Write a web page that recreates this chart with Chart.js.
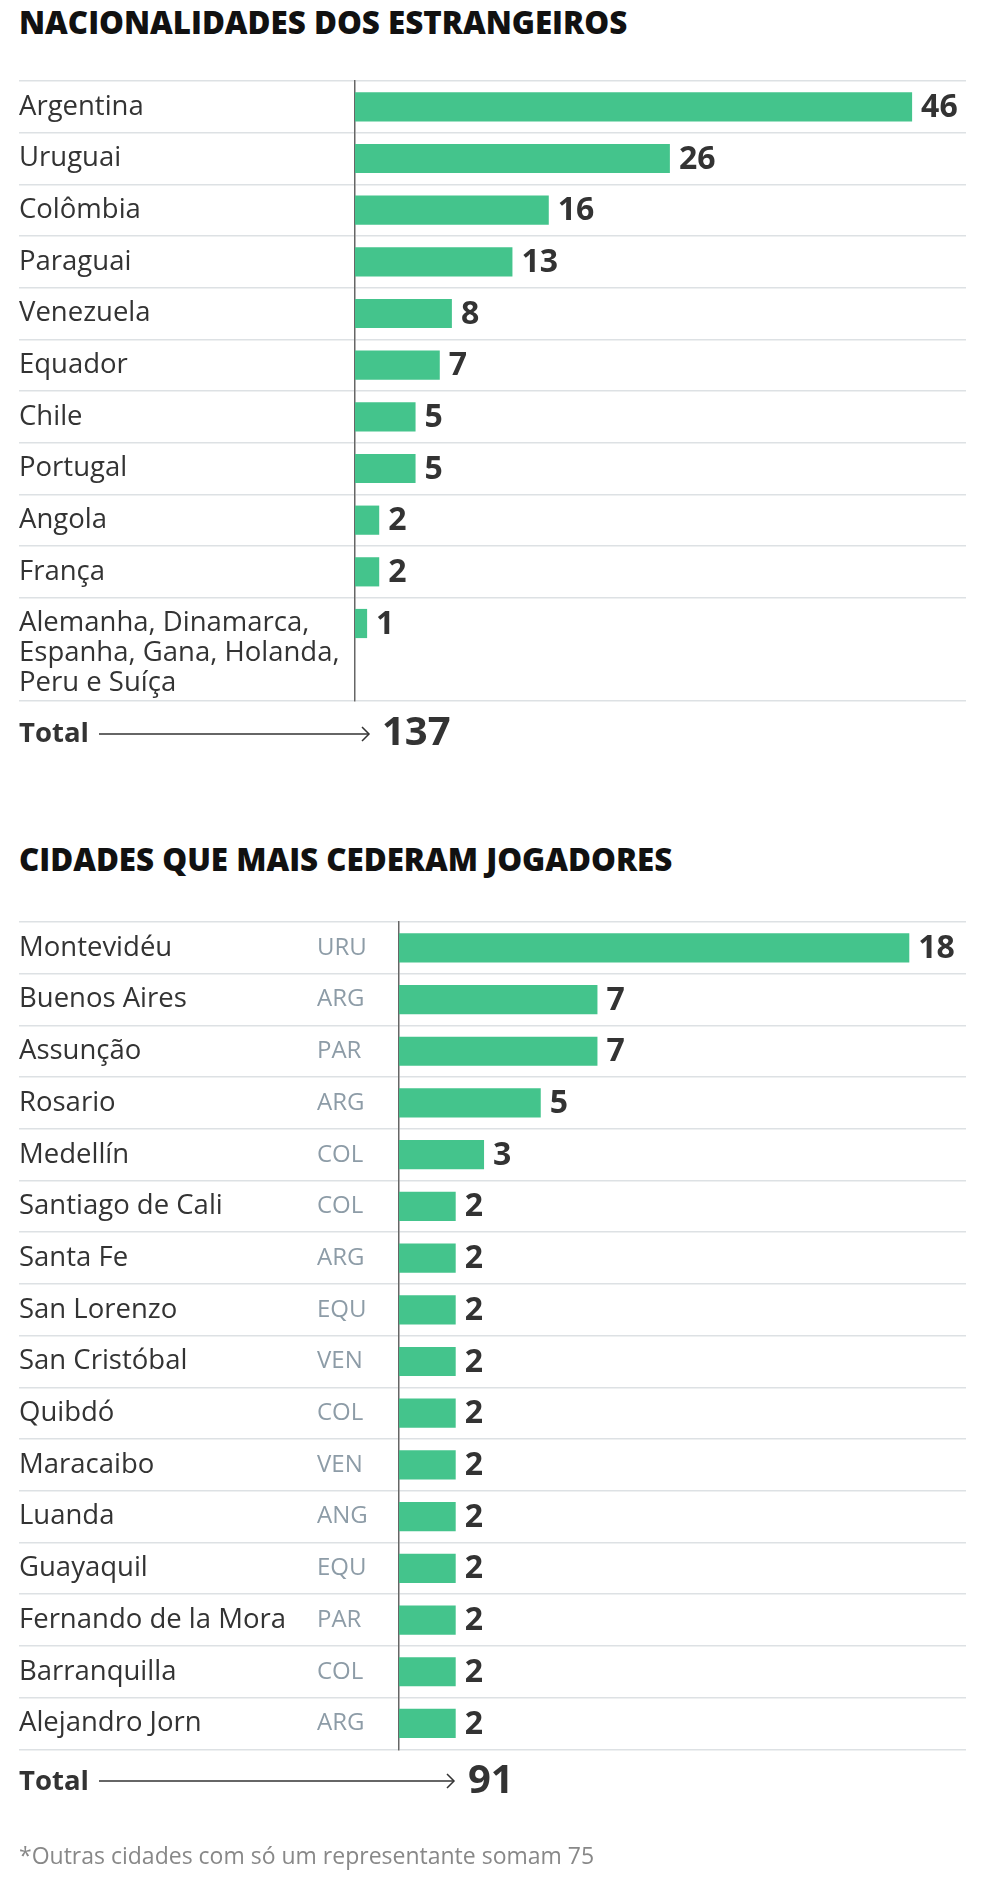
<!DOCTYPE html>
<html>
<head>
<meta charset="utf-8">
<script src="https://cdn.jsdelivr.net/npm/chart.js@4.4.1/dist/chart.umd.min.js"></script>
<style>
  body { margin: 0; background: #fff; font-family: "Open Sans", sans-serif; color: #333; }
  #page { position: relative; width: 984px; height: 1893px; overflow: hidden; }
  .titulo { position: absolute; left: 19px; font-size: 31.3px; line-height: 31.3px; font-weight: 800; color: #111; white-space: nowrap; }
  .caixa { position: absolute; left: 0; width: 984px; }
  .total { position: absolute; left: 19px; font-size: 27.5px; line-height: 27.5px; font-weight: 700; color: #333; }
  .soma { position: absolute; font-size: 40px; line-height: 40px; font-weight: 700; color: #333; }
  .seta { position: absolute; left: 0; top: 0; }
  .nota { position: absolute; left: 19px; top: 1843.6px; font-size: 23px; line-height: 23px; color: #888; white-space: nowrap; }
</style>
</head>
<body>
<div id="page">
  <div class="titulo" style="top:7.3px">NACIONALIDADES DOS ESTRANGEIROS</div>
  <div class="caixa" style="top:60.7px;height:660px"><canvas id="grafico1"></canvas></div>
  <div class="total" style="top:718.4px">Total</div>
  <div class="soma" style="left:382px;top:710.3px" id="total1"></div>

  <div class="titulo" style="top:844.3px">CIDADES QUE MAIS CEDERAM JOGADORES</div>
  <div class="caixa" style="top:901.7px;height:867.3px"><canvas id="grafico2"></canvas></div>
  <div class="total" style="top:1766.4px">Total</div>
  <div class="soma" style="left:468px;top:1757.8px" id="total2"></div>

  <svg class="seta" width="984" height="1893">
    <g stroke="#333" stroke-width="1.5" fill="none">
      <line x1="99" y1="734" x2="369" y2="734"/>
      <polyline points="362,727 369,734 362,741"/>
      <line x1="99" y1="1781" x2="454" y2="1781"/>
      <polyline points="447,1774 454,1781 447,1788"/>
    </g>
  </svg>

  <div class="nota">*Outras cidades com só um representante somam 75</div>
</div>

<script>
// dados - nacionalidades
const paises = ['Argentina', 'Uruguai', 'Colômbia', 'Paraguai', 'Venezuela', 'Equador', 'Chile',
  'Portugal', 'Angola', 'França',
  ['', '', 'Alemanha, Dinamarca,', 'Espanha, Gana, Holanda,', 'Peru e Suíça'], ''];
const jogadoresPais = [46, 26, 16, 13, 8, 7, 5, 5, 2, 2, 1, null];
const totalPaises = 137;

// dados - cidades
const cidades = ['Montevidéu', 'Buenos Aires', 'Assunção', 'Rosario', 'Medellín', 'Santiago de Cali',
  'Santa Fe', 'San Lorenzo', 'San Cristóbal', 'Quibdó', 'Maracaibo', 'Luanda', 'Guayaquil',
  'Fernando de la Mora', 'Barranquilla', 'Alejandro Jorn'];
const codigos = ['URU', 'ARG', 'PAR', 'ARG', 'COL', 'COL', 'ARG', 'EQU', 'VEN', 'COL', 'VEN', 'ANG',
  'EQU', 'PAR', 'COL', 'ARG'];
const jogadoresCidade = [18, 7, 7, 5, 3, 2, 2, 2, 2, 2, 2, 2, 2, 2, 2, 2];
const totalCidades = 91;

const verde = '#44c48c';
const cinzaGrade = '#dde1e4';

document.getElementById('total1').textContent = totalPaises;
document.getElementById('total2').textContent = totalCidades;

// escreve o valor ao fim de cada barra
const rotulosValor = {
  id: 'rotulosValor',
  afterDatasetsDraw(chart) {
    const ctx = chart.ctx;
    const meta = chart.getDatasetMeta(0);
    const valores = chart.data.datasets[0].data;
    ctx.save();
    ctx.font = 'bold 32px "Open Sans"';
    ctx.fillStyle = '#333';
    ctx.textAlign = 'left';
    ctx.textBaseline = 'middle';
    meta.data.forEach((barra, i) => {
      if (valores[i] == null) return;
      ctx.fillText(valores[i], barra.x + 9, barra.y + 1);
    });
    ctx.restore();
  }
};

// siglas dos países ao lado das cidades
const siglas = {
  id: 'siglas',
  afterDraw(chart, args, opts) {
    if (!opts.lista) return;
    const ctx = chart.ctx;
    const y = chart.scales.y;
    ctx.save();
    ctx.font = '24px "Open Sans"';
    ctx.fillStyle = '#8d9ca7';
    ctx.textAlign = 'left';
    ctx.textBaseline = 'middle';
    opts.lista.forEach((s, i) => ctx.fillText(s, opts.x, y.getPixelForValue(i)));
    ctx.restore();
  }
};

function criarGrafico(id, rotulos, valores, maximo, larguraEixo, linhaOculta, lista) {
  return new Chart(document.getElementById(id), {
    type: 'bar',
    data: {
      labels: rotulos,
      datasets: [{
        data: valores,
        backgroundColor: verde,
        barPercentage: 0.565,
        categoryPercentage: 1
      }]
    },
    options: {
      indexAxis: 'y',
      responsive: true,
      maintainAspectRatio: false,
      animation: false,
      // folga maior que meia altura do rótulo, para a área não encolher
      layout: { padding: { left: 19, right: 18, top: 20, bottom: 20 } },
      plugins: {
        legend: { display: false },
        tooltip: { enabled: false },
        siglas: { lista: lista, x: 317 }
      },
      scales: {
        x: { display: false, min: 0, max: maximo },
        y: {
          afterFit(scale) { scale.width = larguraEixo; },
          grid: {
            offset: true,
            color: c => (c.index === linhaOculta ? 'rgba(0,0,0,0)' : cinzaGrade),
            lineWidth: 1.5,
            tickLength: larguraEixo
          },
          border: { display: true, color: '#666', width: 1.5 },
          ticks: {
            autoSkip: false,
            crossAlign: 'far',
            padding: 0,
            color: '#333',
            font: { family: 'Open Sans', size: 27.5, lineHeight: 1.09 }
          }
        }
      }
    },
    plugins: [rotulosValor, siglas]
  });
}

criarGrafico('grafico1', paises, jogadoresPais, 50.45, 336, 11, null);
criarGrafico('grafico2', cidades, jogadoresCidade, 20, 380, -1, codigos);
</script>
</body>
</html>
